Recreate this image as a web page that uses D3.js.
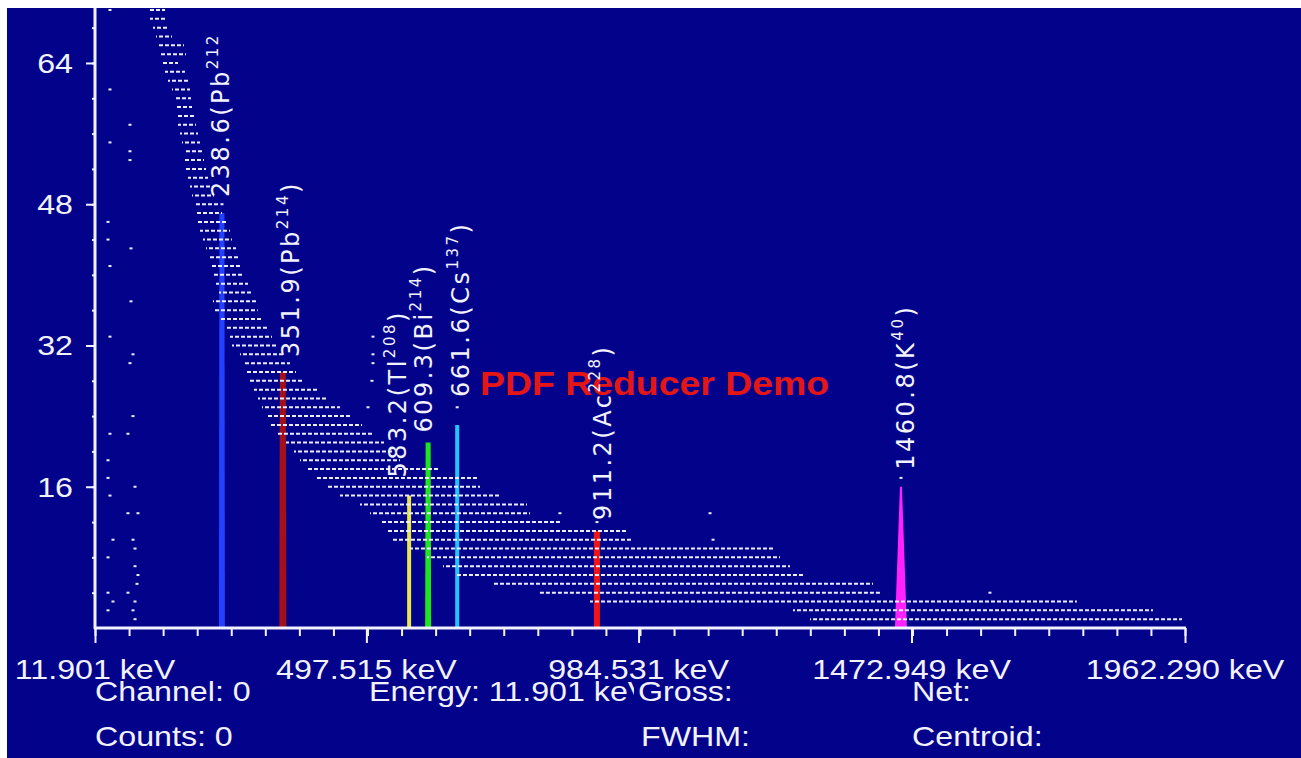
<!DOCTYPE html>
<html>
<head>
<meta charset="utf-8">
<script src="https://cdn.jsdelivr.net/npm/d3@7"></script>
<style>
  body { margin: 0; background: #fff; }
  svg { display: block; }
</style>
</head>
<body>
<svg id="chart" width="1301" height="758"></svg>
<script>
// axis values
var energyTicks = [11.901, 497.515, 984.531, 1472.949, 1962.290];
var energyTickLabels = ["11.901 keV", "497.515 keV", "984.531 keV", "1472.949 keV", "1962.290 keV"];
var countTicks = [16, 32, 48, 64];
var countMax = 70;

// identified peaks
var peakEnergy = [238.6, 351.9, 583.2, 609.3, 661.6, 911.2, 1460.8];
var peakNuclide = ["Pb", "Pb", "Tl", "Bi", "Cs", "Ac", "K"];
var peakMass = ["212", "214", "208", "214", "137", "228", "40"];
var peakBarKeV = [239, 348, 574, 608, 660, 910, 1454];
var peakCounts = [47, 29, 15, 21, 23, 11, 16];

// spectrum channels read as runs: [counts, from keV, to keV]
var bandRows = [
  [70, 110.3, 137.2], [69, 110.3, 140.7], [68, 115.7, 142.5], [67, 121.1, 149.7],
  [66, 122.8, 171.1], [65, 128.2, 174.7], [64, 133.6, 160.4], [63, 137.2, 172.9],
  [62, 142.5, 178.3], [61, 149.7, 181.9], [60, 153.3, 183.7], [59, 156.8, 185.5],
  [58, 160.4, 189.0], [57, 160.4, 192.6], [56, 164.0, 196.2], [55, 167.6, 199.8],
  [54, 171.1, 205.1], [53, 171.1, 206.9], [52, 174.7, 210.5], [51, 178.3, 214.1],
  [50, 181.9, 217.7], [49, 185.5, 224.8], [48, 189.0, 232.0], [47, 192.6, 239.1],
  [46, 196.2, 246.3], [45, 199.8, 253.5], [44, 205.1, 257.0], [43, 210.5, 264.2],
  [42, 214.1, 267.8], [41, 219.5, 271.3], [40, 224.8, 278.5], [39, 228.4, 285.7],
  [38, 233.8, 292.8], [37, 223.0, 300.0], [36, 223.0, 303.0], [35, 235.6, 310.7],
  [34, 248.0, 319.7], [33, 253.5, 328.6], [32, 257.0, 339.3], [31, 271.3, 350.1],
  [30, 276.7, 360.8], [29, 282.1, 371.6], [28, 289.2, 382.3], [27, 296.4, 410.9],
  [26, 303.6, 428.8], [25, 310.7, 450.3], [24, 317.9, 471.8], [23, 325.0, 489.7],
  [22, 339.3, 507.6], [21, 353.7, 529.0], [20, 368.0, 546.9], [19, 378.7, 557.7],
  [18, 389.5, 629.2], [17, 407.3, 695.4], [16, 428.8, 700.8], [15, 450.3, 736.6],
  [14, 486.1, 784.9], [13, 504.0, 790.3], [12, 521.9, 843.9], [11, 534.4, 963.8],
  [10, 545.1, 974.6], [9, 575.5, 1225.1], [8, 606.0, 1237.6], [7, 634.6, 1255.5],
  [6, 656.0, 1278.8], [5, 724.0, 1404.1], [4, 808.0, 1416.6], [3, 897.6, 1768.8],
  [2, 1260.8, 1905.0], [1, 1291.4, 1956.9]
];

// single channels away from the main band: [keV, counts]
var strayPoints = [
  [38.7, 70], [38.7, 61], [74.5, 57], [38.7, 55], [74.5, 54], [74.5, 53],
  [35.2, 46], [35.2, 44], [76.3, 43], [38.7, 41], [76.3, 37], [38.7, 33],
  [79.9, 31], [74.5, 30], [79.9, 24], [38.7, 22], [70.9, 22], [35.2, 19],
  [35.2, 17], [83.5, 16], [38.7, 15], [70.9, 13], [88.8, 13], [44.1, 10],
  [79.9, 10], [83.5, 9], [35.2, 8], [83.5, 7], [88.8, 6], [87.1, 5],
  [35.2, 4], [70.9, 4], [44.1, 3], [83.5, 3], [35.2, 2], [79.9, 2], [83.5, 1],
  [509.3, 33], [509.3, 31], [509.3, 30], [507.5, 28], [500.4, 25],
  [239.1, 48], [660.0, 25], [910.1, 12], [1454.1, 17],
  [843.9, 13], [1112.4, 13], [1117.8, 10], [1613.3, 4]
];

var infoLabels = ["Channel: 0", "Counts: 0", "Energy: 11.901 keV", "Gross:", "FWHM:", "Net:", "Centroid:"];
var watermark = "PDF Reducer Demo";

// ---- drawing ----
var W = 1301, H = 758;
var bg = "#02038a", ink = "#f2f2ff";
var svg = d3.select("#chart");

var x = d3.scaleLinear().domain([energyTicks[0], energyTicks[energyTicks.length - 1]]).range([95, 1185]);
var y = d3.scaleLinear().domain([0, countMax]).range([628, 10]);

svg.append("rect").attr("width", W).attr("height", H).attr("fill", bg);

var defs = svg.append("defs");
defs.append("clipPath").attr("id", "plotClip")
  .append("rect").attr("x", 0).attr("y", 34).attr("width", W).attr("height", 596);

// peak bars
var peakColor = ["#2342ff", "#a3101c", "#e8e84a", "#1de61d", "#20c6ff", "#f21414", "#ff22ff"];
var barBase = [6, 7, 4, 6, 4, 6, 12];
var barTop = [5, 6, 4, 5, 4, 6, 2];

var bars = svg.append("g");
peakEnergy.forEach(function(e, i) {
  var cx = x(peakBarKeV[i]), y0 = y(0), y1 = y(peakCounts[i]);
  var b = barBase[i] / 2, t = barTop[i] / 2;
  bars.append("path")
    .attr("d", "M" + (cx - b) + "," + y0 + "L" + (cx - t) + "," + y1 + "L" + (cx + t) + "," + y1 + "L" + (cx + b) + "," + y0 + "Z")
    .attr("fill", peakColor[i]);
});

// channel dots
var dots = svg.append("g");
dots.selectAll("line").data(bandRows).enter().append("line")
  .attr("x1", function(d) { return x(d[1]); })
  .attr("x2", function(d) { return x(d[2]); })
  .attr("y1", function(d) { return y(d[0]); })
  .attr("y2", function(d) { return y(d[0]); })
  .attr("stroke", "#ececff")
  .attr("stroke-width", 2)
  .attr("stroke-dasharray", "4,2")
  .attr("stroke-dashoffset", function(d, i) { return (i * 7) % 6; });

dots.selectAll("rect").data(strayPoints).enter().append("rect")
  .attr("x", function(d) { return x(d[0]) - 1.5; })
  .attr("y", function(d) { return y(d[1]) - 1; })
  .attr("width", 3).attr("height", 2)
  .attr("fill", "#ececff");

// axes
var minorEnergy = d3.range(0, 33).map(function(k) {
  return energyTicks[0] + k * (energyTicks[4] - energyTicks[0]) / 32;
});
var axisG = svg.append("g").attr("class", "axes");

axisG.append("g").attr("transform", "translate(0,628)")
  .call(d3.axisBottom(x).tickValues(minorEnergy).tickSize(8).tickFormat(""));
axisG.append("g").attr("transform", "translate(0,628)")
  .call(d3.axisBottom(x).tickValues(energyTicks).tickSize(15).tickFormat(""));
axisG.append("g").attr("transform", "translate(95,0)")
  .call(d3.axisLeft(y).tickValues(d3.range(4, countMax, 4)).tickSize(3).tickFormat(""));
axisG.append("g").attr("transform", "translate(95,0)")
  .call(d3.axisLeft(y).tickValues(countTicks).tickSize(9).tickFormat(""));

axisG.selectAll(".domain").remove();
axisG.selectAll(".tick line").attr("stroke", ink).attr("stroke-width", 2);
axisG.append("line").attr("x1", 95).attr("x2", 95).attr("y1", 0).attr("y2", 629)
  .attr("stroke", ink).attr("stroke-width", 3);
axisG.append("line").attr("x1", 94).attr("x2", 1186).attr("y1", 628).attr("y2", 628)
  .attr("stroke", ink).attr("stroke-width", 3);

function wideText(g, px, py, str, anchor) {
  return g.append("text")
    .attr("transform", "translate(" + px + "," + py + ") scale(1.13,1)")
    .attr("text-anchor", anchor || "start")
    .text(str);
}

var txt = svg.append("g")
  .attr("font-family", "'Liberation Sans', Arial, sans-serif")
  .attr("font-size", 28.5)
  .attr("fill", ink);

energyTicks.forEach(function(e, i) {
  wideText(txt, x(e), 679, energyTickLabels[i], "middle");
});
countTicks.forEach(function(c) {
  wideText(txt, 73, y(c) + 10, String(c), "end");
});

// status lines under the axis
var infoPos = [[95, 701], [95, 746], [369, 701], [638, 701], [641, 746], [912, 701], [912, 746]];
defs.append("clipPath").attr("id", "energyClip")
  .append("rect").attr("x", 0).attr("y", 670).attr("width", infoPos[3][0] - 4).attr("height", 40);
infoLabels.forEach(function(s, i) {
  var holder = i === 2 ? txt.append("g").attr("clip-path", "url(#energyClip)") : txt;
  wideText(holder, infoPos[i][0], infoPos[i][1], s, "start");
});

// watermark
svg.append("text")
  .attr("transform", "translate(480,395) scale(1.1,1)")
  .attr("font-family", "'Liberation Sans', Arial, sans-serif")
  .attr("font-weight", "bold")
  .attr("font-size", 34)
  .attr("fill", "#e41616")
  .text(watermark);

// peak labels, rotated
var labelShift = [[-2, -16], [5, -15], [-17, -18], [-6, -10], [2, -28], [4, -11], [0, -17]];
var labels = svg.append("g")
  .attr("clip-path", "url(#plotClip)")
  .attr("font-family", "'DejaVu Sans', Verdana, sans-serif")
  .attr("font-size", 24)
  .attr("letter-spacing", 2.5)
  .attr("fill", ink);

peakEnergy.forEach(function(e, i) {
  var lx = x(e) + labelShift[i][0] + 9;
  var ly = y(peakCounts[i]) + labelShift[i][1];
  var t = labels.append("text")
    .attr("transform", "translate(" + lx + "," + ly + ") rotate(-90)");
  t.append("tspan").text(e.toFixed(1) + "(" + peakNuclide[i]);
  t.append("tspan").attr("dy", -11).attr("font-size", 15).text(peakMass[i]);
  t.append("tspan").attr("dy", 11).text(")");
});

// white frame strips
svg.append("rect").attr("width", W).attr("height", 8).attr("fill", "#fff");
svg.append("rect").attr("width", 7).attr("height", H).attr("fill", "#fff");
</script>
</body>
</html>
